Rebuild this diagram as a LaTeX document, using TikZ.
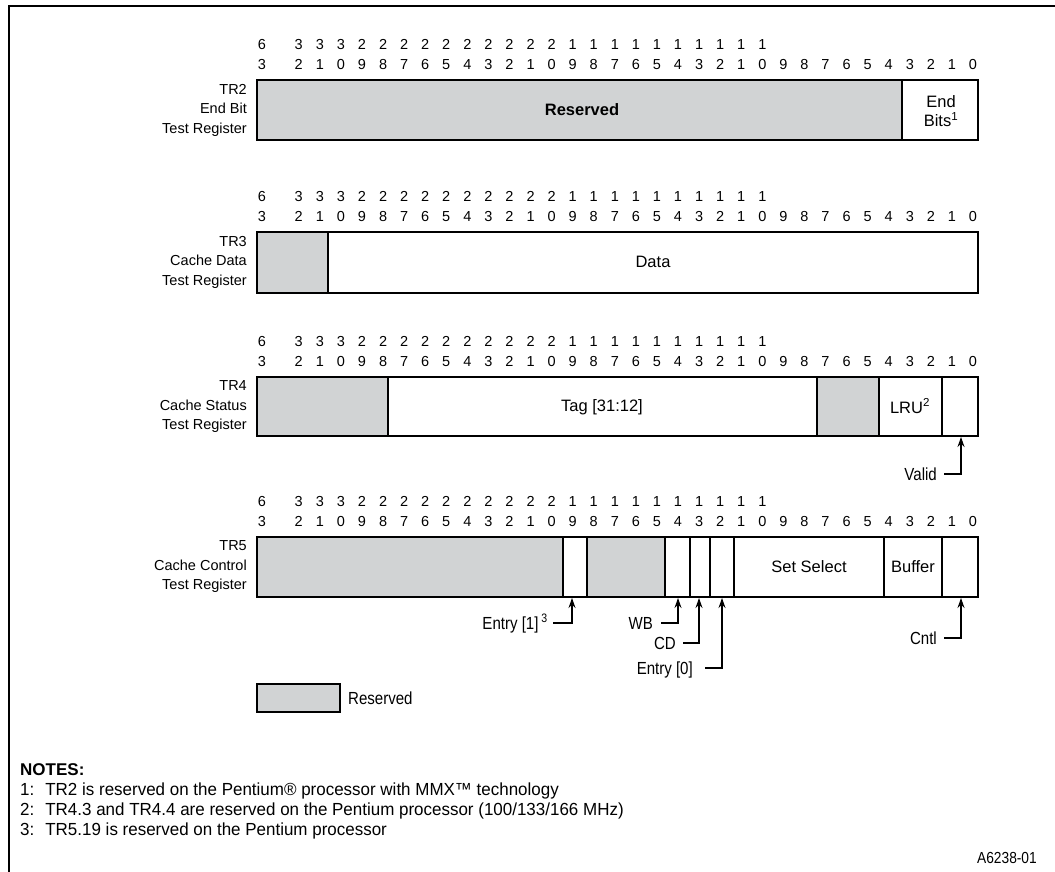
\documentclass[tikz,border=0pt]{standalone}
\usepackage{fontspec}
\setmainfont{Liberation Sans}
\newfontfamily\narrowfont[FakeStretch=0.86]{Liberation Sans}
\newfontfamily\notefont[FakeStretch=0.97]{Liberation Sans}
\usetikzlibrary{arrows.meta}
\definecolor{resgray}{RGB}{209,211,212}
\tikzset{
  bitnum/.style={font=\fontsize{14.5}{16}\selectfont, inner sep=0pt, text height=10.4pt, text depth=0pt},
  reglabel/.style={font=\fontsize{14.5}{19.5}\selectfont, align=right, anchor=east, inner sep=0pt},
  celltext/.style={font=\fontsize{16.5}{19}\selectfont, align=center, inner sep=0pt},
  calllbl/.style={font=\narrowfont\fontsize{17.5}{18}\selectfont, anchor=east, inner sep=0pt, text height=12.5pt, text depth=0pt},
  notetext/.style={font=\notefont\fontsize{17.5}{20}\selectfont, anchor=west, inner sep=0pt, text height=12.5pt, text depth=0pt},
  regbox/.style={line width=2.6pt},
  cellline/.style={line width=1.2pt},
  thickline/.style={line width=2.2pt},
  callarrow/.style={line width=1.1pt, -{Stealth[length=10pt,width=7pt]}},
  resfill/.style={fill=resgray}
}
\newcommand\bitnumbers[2]{%
  \node[bitnum] (#1a63) at (262,#2-36) {6};
  \node[bitnum] (#1b63) at (262,#2-16) {3};
  \foreach \b in {0,...,32}{%
    \pgfmathtruncatemacro\tens{div(\b,10)}%
    \pgfmathtruncatemacro\ones{mod(\b,10)}%
    \node[bitnum] (#1b\b) at ({973-21.07*\b},#2-16) {\ones};
    \ifnum\b>9 \node[bitnum] (#1a\b) at ({973-21.07*\b},#2-36) {\tens};\fi
  }}
\begin{document}
\begin{tikzpicture}[x=1pt,y=-1pt]
\useasboundingbox (0,0) rectangle (1055,871);
\fill[white] (0,0) rectangle (1055,871);
% frame
\draw[line width=2pt] (9,880) -- (9,6) -- (1060,6);

% ---------- TR2 ----------
\bitnumbers{trtwo}{80}
\fill[resfill] (257,80) rectangle (902,140);
\draw[cellline] (902,80) -- (902,140);
\draw[regbox] (257,80) rectangle (978,140);
\node[reglabel] (trtwolbl) at (247,110) {TR2\\End Bit\\Test Register};
\node[celltext, font=\bfseries\fontsize{16.5}{19}\selectfont] (trtwores) at (582,110) {Reserved};
\node[celltext] (trtwoend) at (941,111) {End\\Bits\textsuperscript{1}};

% ---------- TR3 ----------
\bitnumbers{trthree}{232}
\fill[resfill] (257,232) rectangle (328,293);
\draw[cellline] (328,232) -- (328,293);
\draw[regbox] (257,232) rectangle (978,293);
\node[reglabel] (trthreelbl) at (247,262) {TR3\\Cache Data\\Test Register};
\node[celltext] (trthreedata) at (653,262) {Data};

% ---------- TR4 ----------
\bitnumbers{trfour}{377}
\fill[resfill] (257,377) rectangle (388,436);
\fill[resfill] (817,377) rectangle (879,436);
\draw[cellline] (388,377) -- (388,436);
\draw[cellline] (817,377) -- (817,436);
\draw[cellline] (879,377) -- (879,436);
\draw[cellline] (942,377) -- (942,436);
\draw[regbox] (257,377) rectangle (978,436);
\node[reglabel] (trfourlbl) at (247,407) {TR4\\Cache Status\\Test Register};
\node[celltext] (trfourtag) at (602,407) {Tag [31:12]};
\node[celltext] (trfourlru) at (910,406) {LRU\textsuperscript{2}};
\coordinate (validpt) at (961,437);

% ---------- TR5 ----------
\bitnumbers{trfive}{537}
\fill[resfill] (257,537) rectangle (563,597);
\fill[resfill] (587,537) rectangle (665,597);
\foreach \xx in {563,587,665,690,710,734}{\draw[cellline] (\xx,537) -- (\xx,597);}
\draw[thickline] (884,537) -- (884,597);
\draw[thickline] (942,537) -- (942,597);
\draw[regbox] (257,537) rectangle (978,597);
\node[reglabel] (trfivelbl) at (247,567) {TR5\\Cache Control\\Test Register};
\node[celltext] (trfiveset) at (809,567) {Set Select};
\node[celltext] (trfivebuf) at (913,567) {Buffer};
\coordinate (entryonept) at (572,598);
\coordinate (wbpt) at (678,598);
\coordinate (cdpt) at (699,598);
\coordinate (entryzeropt) at (722,598);
\coordinate (cntlpt) at (961,598);

% ---------- callouts ----------
\node[calllbl] (valid) at (937,474) {Valid};
\draw[callarrow] ([xshift=7pt]valid.east) -| (validpt);
\node[calllbl] (entryone) at (548,623) {Entry [1]\,\textsuperscript{3}};
\draw[callarrow] ([xshift=5pt]entryone.east) -| (entryonept);
\node[calllbl] (wb) at (653,623) {WB};
\draw[callarrow] ([xshift=8pt]wb.east) -| (wbpt);
\node[calllbl] (cd) at (676,643) {CD};
\draw[callarrow] ([xshift=7pt]cd.east) -| (cdpt);
\node[calllbl] (entryzero) at (693,668) {Entry [0]};
\draw[callarrow] ([xshift=12pt]entryzero.east) -| (entryzeropt);
\node[calllbl] (cntl) at (937,638) {Cntl};
\draw[callarrow] ([xshift=7pt]cntl.east) -| (cntlpt);

% ---------- legend ----------
\draw[cellline, resfill] (257,684) rectangle (340,712);
\node[calllbl, anchor=west] (legendtxt) at (348,698) {Reserved};

% ---------- notes ----------
\node[notetext, font=\bfseries\fontsize{17}{20}\selectfont] (notes) at (20,769) {NOTES:};
\node[notetext] (noteone) at (20,789) {1: \ TR2 is reserved on the Pentium® processor with MMX™ technology};
\node[notetext] (notetwo) at (20,809) {2: \ TR4.3 and TR4.4 are reserved on the Pentium processor (100/133/166 MHz)};
\node[notetext] (notethree) at (20,829) {3: \ TR5.19 is reserved on the Pentium processor};
\node[calllbl, font=\narrowfont\fontsize{16}{18}\selectfont, text height=11.5pt, anchor=east] (figid) at (1037,858) {A6238-01};
\end{tikzpicture}
\end{document}
